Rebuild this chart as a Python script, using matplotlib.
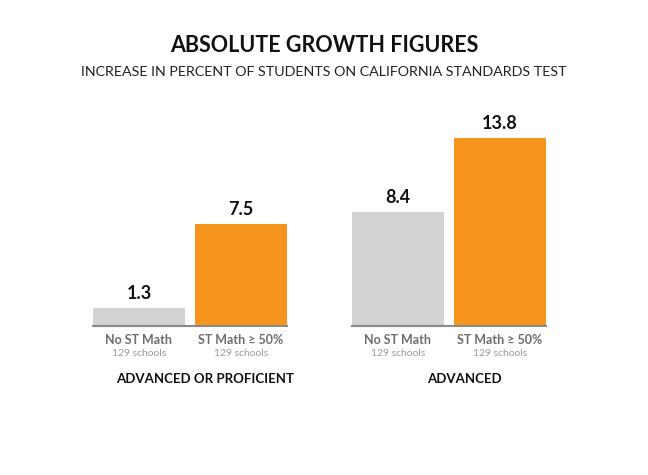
import matplotlib.pyplot as plt

plt.rcParams['font.family'] = ['Lato', 'DejaVu Sans']

groups = ['ADVANCED OR PROFICIENT', 'ADVANCED']
bar_names = ['No ST Math', 'ST Math \u2265 50%']
bar_notes = ['129 schools', '129 schools']
values = [[1.3, 7.5], [8.4, 13.8]]
colors = ['#d3d3d4', '#f7941d']

W, H = 648, 475
fig = plt.figure(figsize=(W / 100, H / 100), dpi=100)
fig.patch.set_facecolor('white')

fig.text(0.5, 1 - 45 / H, 'ABSOLUTE GROWTH FIGURES', ha='center', va='center',
         fontsize=15.5, fontweight='bold', color='#111111')
fig.text(0.5, 1 - 72 / H, 'INCREASE IN PERCENT OF STUDENTS ON CALIFORNIA STANDARDS TEST',
         ha='center', va='center', fontsize=10.3, color='#222222')

px_per_unit = 13.62
ymax = 17
lefts = [93, 352]
base = 326
for i, g in enumerate(groups):
    ax = fig.add_axes([lefts[i] / W, (H - base) / H, 194 / W, ymax * px_per_unit / H])
    ax.bar([0, 1], values[i], width=0.9, color=colors)
    ax.set_xlim(-0.45, 1.45)
    ax.set_ylim(0, ymax)
    for s in ['top', 'right', 'left']:
        ax.spines[s].set_visible(False)
    ax.spines['bottom'].set_color('#8a8a8a')
    ax.spines['bottom'].set_linewidth(1.5)
    ax.set_yticks([])
    ax.set_xticks([])
    for j, v in enumerate(values[i]):
        ax.text(j, v + 0.66, f'{v:.1f}', ha='center', va='baseline',
                fontsize=13, fontweight='bold', color='#111111')
        ax.text(j, -1.0, bar_names[j], ha='center', va='center',
                fontsize=9, fontweight='bold', color='#6d6d6d')
        ax.text(j, -2.05, bar_notes[j], ha='center', va='center',
                fontsize=7.5, color='#9a9a9a')
    ax.text(0.65, -3.9, g, ha='center', va='center',
            fontsize=9.5, fontweight='bold', color='#111111')
    ax.patch.set_alpha(0)

fig.savefig('out.png', dpi=100, facecolor='white')
